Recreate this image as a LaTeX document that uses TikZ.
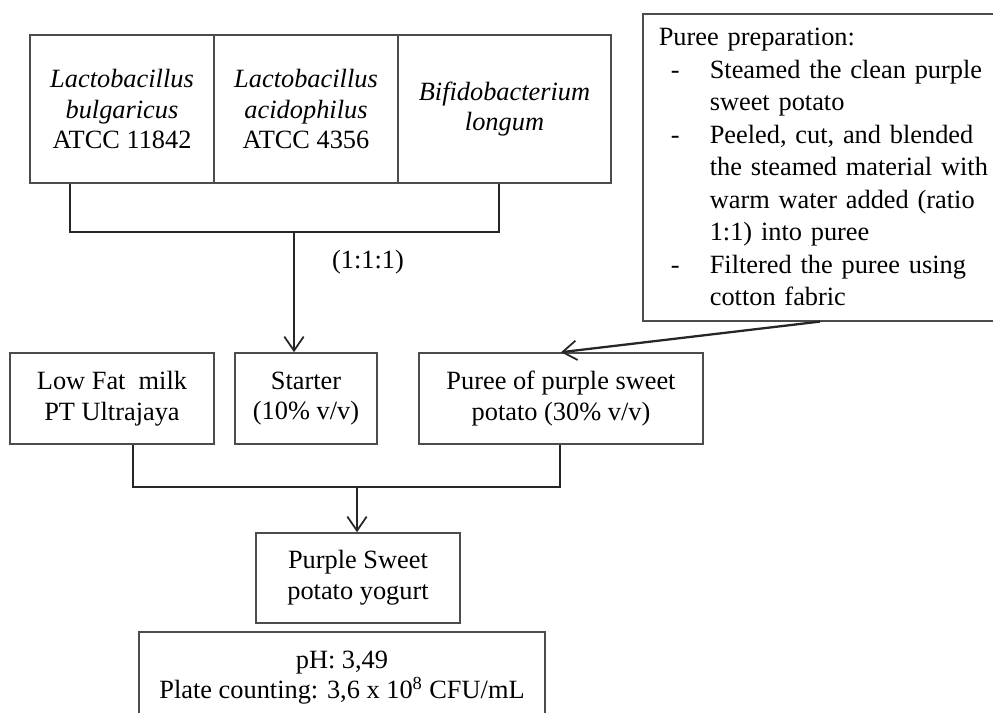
\documentclass[tikz,border=0pt]{standalone}
\usepackage{fontspec}
\setmainfont{Liberation Serif}
\usetikzlibrary{arrows.meta}

\tikzset{
  box/.style={draw=black!70,line width=0.9pt,align=center,inner sep=2pt},
  conn/.style={draw=black!85,line width=1.3pt},
  arr/.style={conn,-{Straight Barb[length=8pt,width=11pt,line width=1pt]}}
}
\tikzstyle{every node}=[font=\fontsize{15}{17.5}\selectfont]

\begin{document}
\begin{tikzpicture}
    \useasboundingbox (0,0) rectangle (19.86,-14.26);
    \clip (0,0) rectangle (19.86,-14.26);
    % bacteria
    \node[box,minimum width=3.68cm,minimum height=2.96cm] (lb) at (2.44,-2.18)
        {\textit{Lactobacillus}\\\textit{bulgaricus}\\ATCC 11842};
    \node[box,minimum width=3.68cm,minimum height=2.96cm] (la) at (6.12,-2.18)
        {\textit{Lactobacillus}\\\textit{acidophilus}\\ATCC 4356};
    \node[box,minimum width=4.26cm,minimum height=2.96cm] (bl) at (10.09,-2.18)
        {\textit{Bifidobacterium}\\\textit{longum}};
    \coordinate (jl) at (1.40,-4.64);
    \coordinate (jr) at (9.98,-4.64);
    \coordinate (join) at (5.88,-4.64);
    \node (ratio) at (7.36,-5.24) {(1:1:1)};
    % ingredients
    \node[box,minimum width=4.08cm,minimum height=1.82cm] (milk) at (2.24,-7.97)
        {Low Fat\ \ milk\\PT Ultrajaya};
    \node[box,minimum width=2.84cm,minimum height=1.82cm] (starter) at (6.12,-7.97)
        {Starter\\(10\% v/v)};
    \node[box,minimum width=5.68cm,minimum height=1.82cm] (puree) at (11.22,-7.97)
        {Puree of purple sweet\\potato (30\% v/v)};
    \node[box,anchor=north west,align=left,text width=6.9cm,inner xsep=0.32cm,
          minimum height=6.14cm,font=\fontsize{15}{18.5}\selectfont] (prep) at (12.84,-0.26)
        {Puree preparation:\\
         \hspace*{0.24cm}\makebox[0.78cm][l]{-}Steamed the clean purple\\
         \hspace*{1.02cm}sweet potato\\
         \hspace*{0.24cm}\makebox[0.78cm][l]{-}Peeled, cut, and blended\\
         \hspace*{1.02cm}the steamed material with\\
         \hspace*{1.02cm}warm water added (ratio\\
         \hspace*{1.02cm}1:1) into puree\\
         \hspace*{0.24cm}\makebox[0.78cm][l]{-}Filtered the puree using\\
         \hspace*{1.02cm}cotton fabric};
    \coordinate (kl) at (2.66,-9.74);
    \coordinate (kr) at (11.20,-9.74);
    \coordinate (km) at (7.14,-9.74);
    % product
    \node[box,minimum width=4.08cm,minimum height=1.8cm] (yogurt) at (7.16,-11.56)
        {Purple Sweet\\potato yogurt};
    \node[box,minimum width=8.12cm,minimum height=1.82cm] (result) at (6.84,-13.55)
        {pH: 3,49\\Plate counting: 3,6 x 10\textsuperscript{8} CFU/mL};

    \draw [conn] (lb.south -| jl) -- (jl) -- (jr) -- (bl.south -| jr);
    \draw [arr] (join) -- (join |- starter.north);
    \draw [arr] ([xshift=3.56cm]prep.south west) -- (puree.north);
    \draw [conn] (milk.south -| kl) -- (kl) -- (kr) -- (puree.south -| kr);
    \draw [arr] (km) -- (km |- yogurt.north);
\end{tikzpicture}
\end{document}
